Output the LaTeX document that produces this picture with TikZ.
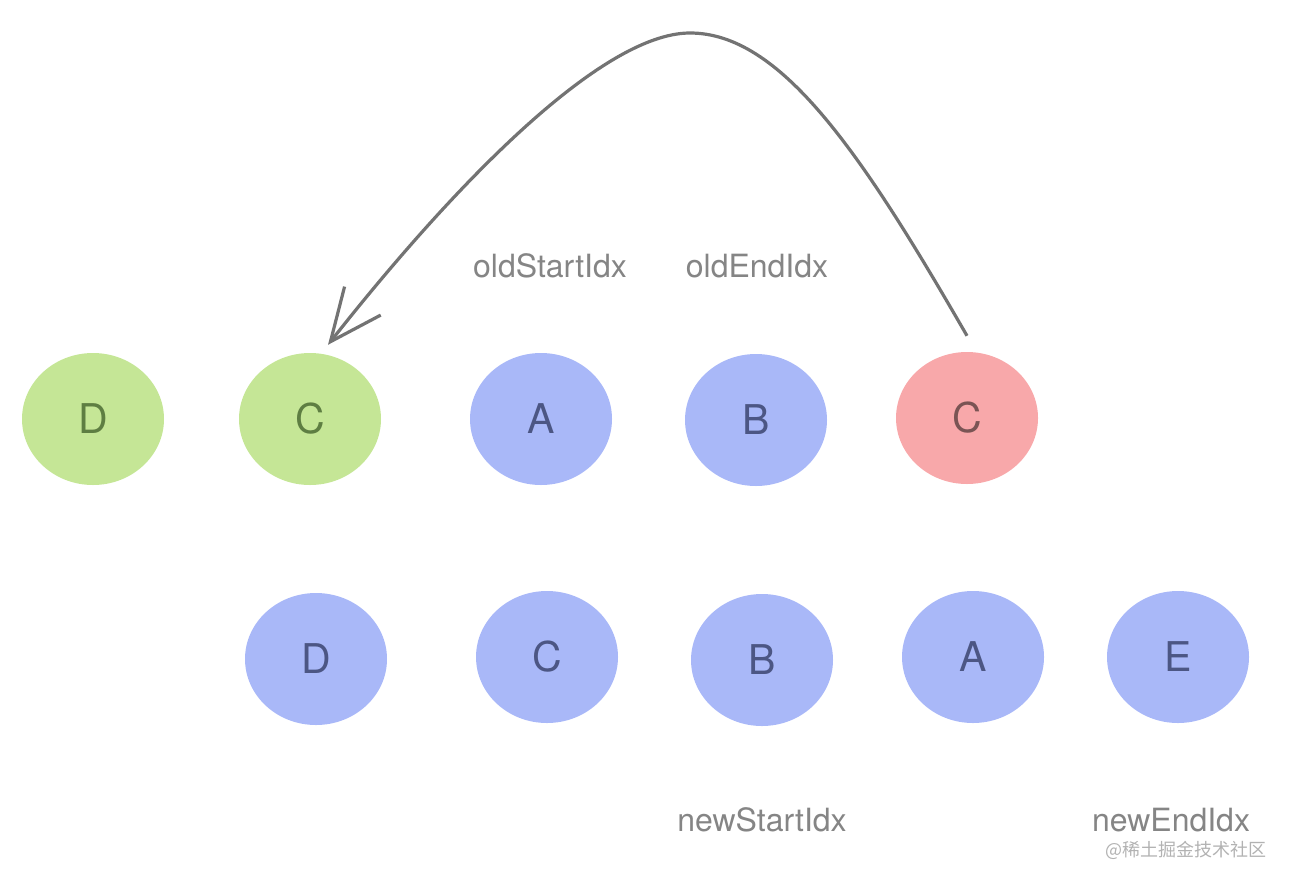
\documentclass[tikz,border=0pt]{standalone}
\usepackage{fontspec}
\setmainfont{TeX Gyre Heros}
\newfontfamily\cjk{Noto Sans CJK SC}
\usepackage{tikz}
\usetikzlibrary{shapes,arrows.meta,positioning,calc}
\usepackage{xcolor}
\definecolor{vgreen}{HTML}{C5E696}
\definecolor{vblue}{HTML}{A9B8F8}
\definecolor{vred}{HTML}{F8A8AA}
\definecolor{tgreen}{HTML}{5E7E42}
\definecolor{tblue}{HTML}{4C5684}
\definecolor{tred}{HTML}{7A5454}
\definecolor{lgray}{HTML}{858585}

\begin{document}
\begin{tikzpicture}[x=1pt, y=-1pt,
    vnode/.style={ellipse, inner sep=0pt, minimum width=142pt, minimum height=132pt, font=\fontsize{41}{43}\selectfont},
    greennode/.style={vnode, fill=vgreen, text=tgreen},
    bluenode/.style={vnode, fill=vblue, text=tblue},
    rednode/.style={vnode, fill=vred, text=tred},
    idxlabel/.style={text=lgray, font=\fontsize{32}{34}\selectfont}]
    \useasboundingbox (0,0) rectangle (1292,884);
    % old vnodes
    \node[greennode] (oldD) at (93,419) {D};
    \node[greennode] (oldC) at (310,419) {C};
    \node[bluenode] (oldA) at (541,419) {A};
    \node[bluenode] (oldB) at (756,420) {B};
    \node[rednode] (oldCr) at (967,418) {C};
    % new vnodes
    \node[bluenode] (newD) at (316,659) {D};
    \node[bluenode] (newC) at (547,657) {C};
    \node[bluenode] (newB) at (762,660) {B};
    \node[bluenode] (newA) at (973,657) {A};
    \node[bluenode] (newE) at (1178,657) {E};
    % pointers
    \node[idxlabel] (oldStart) at (550,266) {oldStartIdx};
    \node[idxlabel] (oldEnd) at (757,266) {oldEndIdx};
    \node[idxlabel] (newStart) at (762,820) {newStartIdx};
    \node[idxlabel] (newEnd) at (1171,820) {newEndIdx};
    % move C in front
    \coordinate (from) at ([yshift=16pt]oldCr.north);
    \coordinate (to) at ([xshift=18pt,yshift=8pt]oldC.north);
    \draw[-{Straight Barb[length=52pt,width=46pt]}, line width=3.2pt, color=black!55]
        (from) .. controls (860,150) and (780,33) .. (690,33)
        .. controls (600,33) and (450,190) .. (to);
    % watermark
    \node[text=black!30, font=\cjk\fontsize{18}{20}\selectfont] (mark) at (1186,850) {@稀土掘金技术社区};
\end{tikzpicture}
\end{document}
